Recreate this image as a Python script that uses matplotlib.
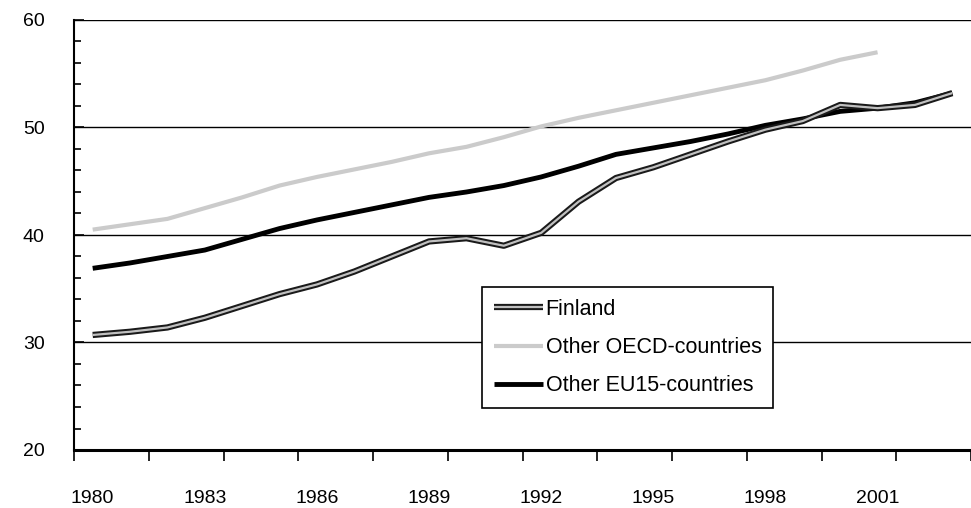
import matplotlib
matplotlib.use("Agg")
import matplotlib.pyplot as plt
import matplotlib.patheffects as pe
import numpy as np

# data (share, %)
years = list(range(1980, 2004))
finland = [30.7, 31.0, 31.4, 32.3, 33.4, 34.5, 35.4, 36.6, 38.0, 39.4,
           39.7, 39.0, 40.2, 43.1, 45.3, 46.3, 47.5, 48.7, 49.8, 50.6,
           52.1, 51.8, 52.1, 53.2]
eu15 = [36.9, 37.4, 38.0, 38.6, 39.6, 40.6, 41.4, 42.1, 42.8, 43.5,
        44.0, 44.6, 45.4, 46.4, 47.5, 48.1, 48.7, 49.4, 50.2, 50.8,
        51.5, 51.8, 52.3, 53.2]
oecd_years = list(range(1980, 2002))
oecd = [40.5, 41.0, 41.5, 42.5, 43.5, 44.6, 45.4, 46.1, 46.8, 47.6,
        48.2, 49.1, 50.1, 50.9, 51.6, 52.3, 53.0, 53.7, 54.4, 55.3,
        56.3, 57.0]
label_years = [1980, 1983, 1986, 1989, 1992, 1995, 1998, 2001]

plt.rcParams['font.family'] = ['Liberation Sans', 'DejaVu Sans']

fig = plt.figure(figsize=(9.71, 5.08), dpi=100)
ax = fig.add_axes([74 / 971, 1 - 450 / 508, 1 - 74 / 971, 430 / 508])

# grid lines
for g in [30, 40, 50, 60]:
    ax.axhline(g, color='black', lw=1.0, zorder=1)

ax.plot(oecd_years, oecd, color='#cbcbcb', lw=3, solid_capstyle='butt',
        label='Other OECD-countries', zorder=2)
ax.plot(years, eu15, color='black', lw=3.5, solid_capstyle='butt',
        label='Other EU15-countries', zorder=3)
ax.plot(years, finland, color='#c0c0c0', lw=1.6, solid_capstyle='butt',
        label='Finland', zorder=4,
        path_effects=[pe.Stroke(linewidth=4.5, foreground='#1a1a1a'), pe.Normal()])

ax.set_ylim(20, 60)
ax.set_xlim(1979.5, 1979.5 + (971 - 74) / 38.0)

ax.set_yticks([20, 30, 40, 50, 60])
ax.set_yticks(np.arange(20, 61, 2), minor=True)
ax.tick_params(axis='y', which='major', direction='in', length=7, width=1.2,
               labelsize=14, pad=21)
ax.tick_params(axis='y', which='minor', direction='in', length=5, width=1.2)

# tick marks every two categories, labels every three
ax.set_xticks(np.arange(1979.5, 2004, 2))
ax.set_xticklabels([])
ax.set_xticks(label_years, minor=True)
ax.set_xticklabels([str(y) for y in label_years], minor=True)
ax.tick_params(axis='x', which='major', direction='out', length=8, width=1.2)
ax.tick_params(axis='x', which='minor', length=0, labelsize=14, pad=29)

for s in ['top', 'right']:
    ax.spines[s].set_visible(False)
ax.spines['left'].set_linewidth(1.5)
ax.spines['bottom'].set_linewidth(2.2)

handles, labels = ax.get_legend_handles_labels()
order = [2, 0, 1]
leg = ax.legend([handles[i] for i in order], [labels[i] for i in order],
                loc='upper left', bbox_to_anchor=(0.455, 0.379),
                fontsize=15.5, frameon=True, fancybox=False, framealpha=1,
                edgecolor='black', handlelength=2.3, handletextpad=0.1,
                labelspacing=0.8, borderpad=0.55, borderaxespad=0)
leg.get_frame().set_linewidth(1.2)

fig.savefig("out.png", dpi=100)
